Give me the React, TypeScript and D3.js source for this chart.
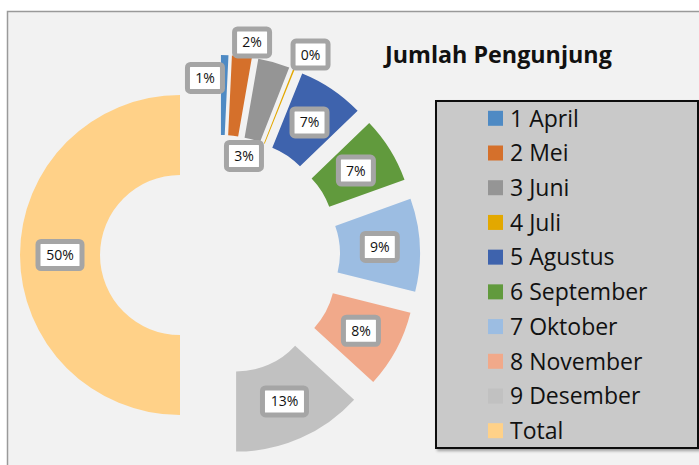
import React from "react";
import * as d3 from "d3";

const categories = ["1 April", "2 Mei", "3 Juni", "4 Juli", "5 Agustus", "6 September", "7 Oktober", "8 November", "9 Desember", "Total"];
const values = [0.75, 2.0, 3.2, 0.15, 6.7, 6.7, 9.4, 7.9, 13.2, 50];
const colors = ["#4e8ac4", "#d5702b", "#959595", "#e3a800", "#3e63ad", "#619a3d", "#9cbde2", "#f1a98a", "#c1c1c1", "#ffd188"];
const title = "Jumlah Pengunjung";

// label placement tweaks (polar, relative to the slice): radius and angle shift in degrees
const labelRadius = [138, 175, 62, 180, 120, 120, 120, 120, 120, 120];
const labelShift = [-8, 2.8, -3.4, 3.2, 0, 0, 0, 0, 0, 0];

const W = 699, H = 465;
const cx = 220, cy = 255, R = 160, r = 80, explode = 40;

export default function App() {
  const total = d3.sum(values);
  const pie = d3.pie<number>().sort(null).value((d) => d).startAngle(0).endAngle(2 * Math.PI);
  const arcs = pie(values);
  const arc = d3.arc<d3.PieArcDatum<number>>().innerRadius(r).outerRadius(R);
  const fmt = d3.format(".0%");

  const legY = d3.scaleLinear().domain([0, categories.length - 1]).range([118.3, 430.7]);

  return (
    <svg width={W} height={H} style={{ position: "absolute", left: 0, top: 0 }} fontFamily="'Open Sans', sans-serif">
      <defs>
        <filter id="sh" x="-10%" y="-10%" width="130%" height="130%">
          <feDropShadow dx="2" dy="2" stdDeviation="1.5" floodColor="#000" floodOpacity="0.35" />
        </filter>
      </defs>
      <rect x={0} y={0} width={W} height={H} fill="#ffffff" />
      <rect x={7.5} y={11.5} width={W} height={H} fill="#f2f2f2" stroke="#9a9a9a" strokeWidth={1.5} />
      {arcs.map((a, i) => {
        const m = (a.startAngle + a.endAngle) / 2;
        const ox = cx + explode * Math.sin(m);
        const oy = cy - explode * Math.cos(m);
        return (
          <path key={i} d={arc(a) || ""} transform={`translate(${ox},${oy})`} fill={colors[i]} />
        );
      })}
      {arcs.map((a, i) => {
        const m = (a.startAngle + a.endAngle) / 2;
        const ox = cx + explode * Math.sin(m);
        const oy = cy - explode * Math.cos(m);
        const la = m + (labelShift[i] * Math.PI) / 180;
        const lx = ox + labelRadius[i] * Math.sin(la);
        const ly = oy - labelRadius[i] * Math.cos(la);
        const txt = fmt(values[i] / total);
        const bw = txt.length > 2 ? 44 : 35;
        const bh = 27;
        return (
          <g key={i} transform={`translate(${lx},${ly})`}>
            <rect x={-bw / 2} y={-bh / 2} width={bw} height={bh} rx={3} fill="#ffffff" stroke="#a5a5a5" strokeWidth={5} />
            <text x={0} y={0} dy="0.36em" textAnchor="middle" fontSize={14} fill="#111">{txt}</text>
          </g>
        );
      })}
      <text x={385} y={63} fontSize={23.3} fontWeight="bold" fill="#111">{title}</text>
      <rect x={436} y={101} width={262} height={347} fill="#c9c9c9" stroke="#111" strokeWidth={2} filter="url(#sh)" />
      {categories.map((c, i) => (
        <g key={c} transform={`translate(0,${legY(i)})`}>
          <rect x={488} y={-7.5} width={15} height={15} fill={colors[i]} />
          <text x={510} y={0} dy="0.36em" fontSize={23} fill="#111">{c}</text>
        </g>
      ))}
    </svg>
  );
}
